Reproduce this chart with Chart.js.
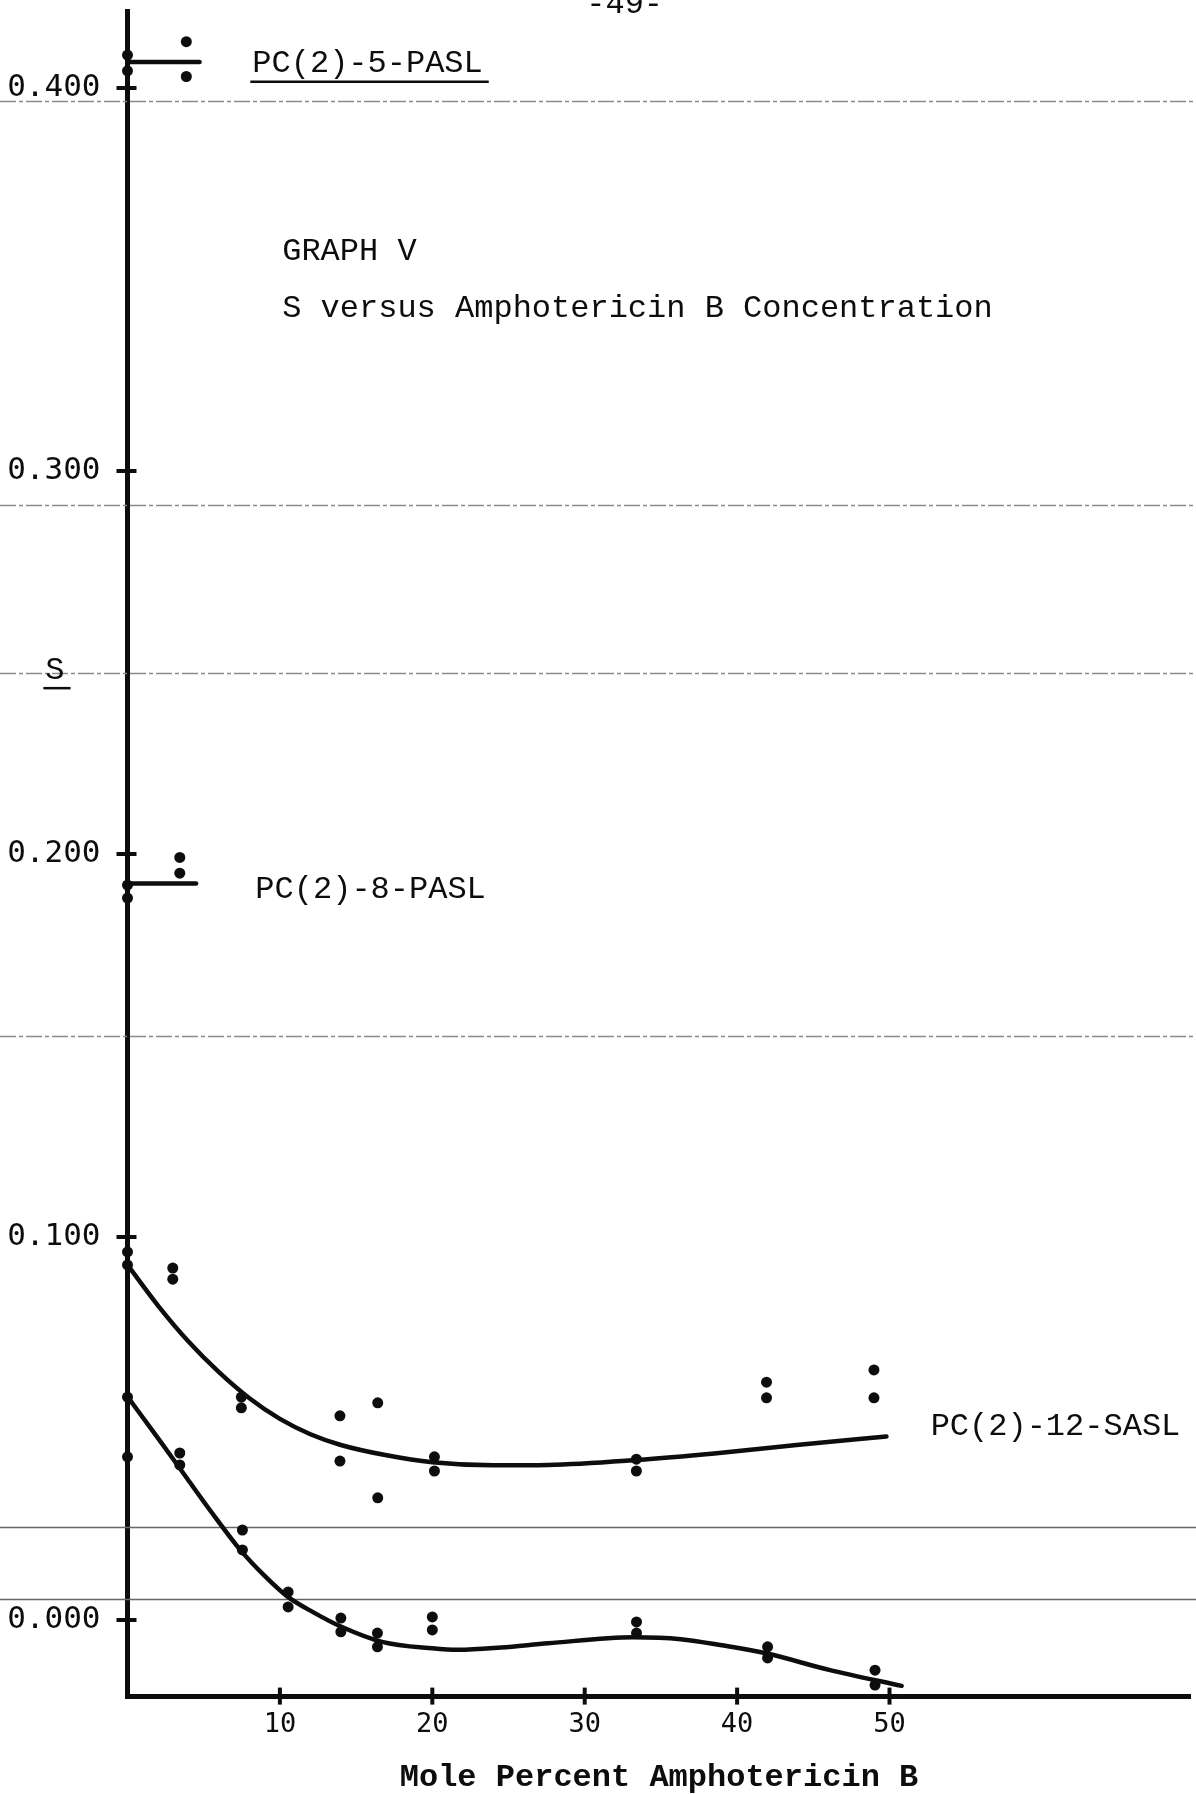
<!DOCTYPE html>
<html>
<head>
<meta charset="utf-8">
<title>Graph V - S versus Amphotericin B Concentration</title>
<script src="https://cdn.jsdelivr.net/npm/chart.js@4.4.1/dist/chart.umd.min.js"></script>
<style>
  html, body { margin: 0; padding: 0; background: #fff; }
  #wrap { width: 1196px; height: 1794px; }
</style>
</head>
<body>
<div id="wrap"><canvas id="graph" width="1196" height="1794"></canvas></div>
<script>
// axis ticks
const xTickValues = [10, 20, 30, 40, 50];
const yTickValues = [0, 0.1, 0.2, 0.3, 0.4];

// PC(2)-5-PASL measured points + fit line
const pasl5X = [0, 0, 3.86, 3.86];
const pasl5Y = [0.4086, 0.4045, 0.4121, 0.4030];
const pasl5FitX = [0, 4.73];
const pasl5FitY = [0.4068, 0.4068];

// PC(2)-8-PASL
const pasl8X = [0, 0, 3.43, 3.43];
const pasl8Y = [0.1919, 0.1885, 0.1991, 0.1950];
const pasl8FitX = [0, 4.5];
const pasl8FitY = [0.1923, 0.1923];

// PC(2)-12-SASL, upper set
const saslUpperX = [0, 0, 2.97, 2.97, 7.47, 7.47, 13.94, 13.94, 16.42, 16.42, 20.14, 20.14, 33.39, 33.39, 41.93, 41.93, 48.98, 48.98];
const saslUpperY = [0.0961, 0.0927, 0.0919, 0.0890, 0.0582, 0.0554, 0.0533, 0.0415, 0.0567, 0.0319, 0.0426, 0.0389, 0.0420, 0.0389, 0.0621, 0.0580, 0.0653, 0.0580];
const saslUpperFitX = [0, 2, 4, 6, 8, 10, 12, 14, 17, 20, 24, 27.6, 33.4, 38.5, 43.9, 49.8];
const saslUpperFitY = [0.0927, 0.0821, 0.0727, 0.0647, 0.0579, 0.0525, 0.0485, 0.0457, 0.0430, 0.0412, 0.0404, 0.0405, 0.0418, 0.0435, 0.0457, 0.0479];

// PC(2)-12-SASL, lower set
const saslLowerX = [0, 0, 3.43, 3.43, 7.54, 7.54, 10.54, 10.54, 14, 14, 16.4, 16.4, 20, 20, 33.4, 33.4, 42, 42, 49.05, 49.05];
const saslLowerY = [0.0582, 0.0426, 0.0436, 0.0405, 0.0235, 0.0183, 0.0073, 0.0034, 0.0005, -0.0031, -0.0034, -0.0070, 0.0008, -0.0026, -0.0005, -0.0034, -0.0070, -0.0099, -0.0131, -0.0170];
const saslLowerFitX = [0, 2, 3.9, 5.5, 7.4, 9, 10.5, 12.2, 14, 16.7, 20, 21.7, 24.5, 27.6, 33.2, 36.3, 39, 41.9, 46.1, 50.8];
const saslLowerFitY = [0.0583, 0.0475, 0.0370, 0.0282, 0.0183, 0.0115, 0.0061, 0.0020, -0.0017, -0.0057, -0.0074, -0.0078, -0.0072, -0.0061, -0.0045, -0.0050, -0.0066, -0.0087, -0.0131, -0.0172];

// faint ruled lines of the paper (in S units)
const ruledDashed = [0.3966, 0.2911, 0.2473, 0.1525];
const ruledSolid = [0.0243, 0.0054];

const ink = '#0d0d0d';
const typeFont = '32px "Liberation Mono", "DejaVu Sans Mono", monospace';

function pairs(xs, ys) {
  return xs.map((x, i) => ({ x: x, y: ys[i] }));
}

function dots(xs, ys) {
  return {
    data: pairs(xs, ys),
    pointRadius: 5.5,
    pointBackgroundColor: ink,
    pointBorderWidth: 0,
    showLine: false,
    clip: false
  };
}

function fit(xs, ys) {
  return {
    data: pairs(xs, ys),
    showLine: true,
    pointRadius: 0,
    borderColor: ink,
    borderWidth: 4.5,
    borderCapStyle: 'round',
    cubicInterpolationMode: 'monotone',
    clip: false
  };
}

// typed annotations, anchored in data units (left edge, vertical centre)
const typed = [
  { text: 'PC(2)-5-PASL', x: 8.19, y: 0.4063, underline: true },
  { text: 'GRAPH V', x: 10.15, y: 0.3574 },
  { text: 'S versus Amphotericin B Concentration', x: 10.15, y: 0.3423 },
  { text: 'S', x: -5.39, y: 0.2480, underline: true },
  { text: 'PC(2)-8-PASL', x: 8.39, y: 0.1906 },
  { text: 'PC(2)-12-SASL', x: 52.7, y: 0.0504 },
  { text: '-49-', x: 30.1, y: 0.4219 }
];

const ruledLines = {
  id: 'ruledLines',
  beforeDatasetsDraw(chart) {
    const { ctx, width } = chart;
    const y = chart.scales.y;
    ctx.save();
    ctx.lineWidth = 1.5;
    ctx.strokeStyle = '#8a8a8a';
    ctx.setLineDash([16, 3, 4, 3]);
    ruledDashed.forEach(v => {
      const py = Math.round(y.getPixelForValue(v)) + 0.5;
      ctx.beginPath(); ctx.moveTo(0, py); ctx.lineTo(width, py); ctx.stroke();
    });
    ctx.setLineDash([]);
    ctx.strokeStyle = '#666';
    ruledSolid.forEach(v => {
      const py = Math.round(y.getPixelForValue(v)) + 0.5;
      ctx.beginPath(); ctx.moveTo(0, py); ctx.lineTo(width, py); ctx.stroke();
    });
    ctx.restore();
  }
};

const crossTicks = {
  id: 'crossTicks',
  afterDraw(chart) {
    const { ctx, chartArea } = chart;
    const { x, y } = chart.scales;
    ctx.save();
    ctx.strokeStyle = ink;
    ctx.lineWidth = 4;
    y.ticks.forEach(t => {
      const py = y.getPixelForValue(t.value);
      ctx.beginPath(); ctx.moveTo(chartArea.left - 11, py); ctx.lineTo(chartArea.left + 9, py); ctx.stroke();
    });
    x.ticks.forEach(t => {
      const px = x.getPixelForValue(t.value);
      ctx.beginPath(); ctx.moveTo(px, chartArea.bottom - 9); ctx.lineTo(px, chartArea.bottom + 8); ctx.stroke();
    });
    ctx.restore();
  }
};

const typedLabels = {
  id: 'typedLabels',
  afterDraw(chart) {
    const { ctx } = chart;
    const { x, y } = chart.scales;
    ctx.save();
    ctx.font = typeFont;
    ctx.fillStyle = ink;
    ctx.textAlign = 'left';
    ctx.textBaseline = 'middle';
    typed.forEach(l => {
      const px = x.getPixelForValue(l.x);
      const py = y.getPixelForValue(l.y);
      ctx.fillText(l.text, px, py);
      if (l.underline) {
        const w = ctx.measureText(l.text).width;
        ctx.strokeStyle = ink;
        ctx.lineWidth = 2.5;
        ctx.beginPath(); ctx.moveTo(px - 2, py + 18); ctx.lineTo(px + w + 6, py + 18); ctx.stroke();
      }
    });
    ctx.restore();
  }
};

new Chart(document.getElementById('graph'), {
  type: 'scatter',
  data: {
    datasets: [
      fit(pasl5FitX, pasl5FitY),
      fit(pasl8FitX, pasl8FitY),
      fit(saslUpperFitX, saslUpperFitY),
      fit(saslLowerFitX, saslLowerFitY),
      dots(pasl5X, pasl5Y),
      dots(pasl8X, pasl8Y),
      dots(saslUpperX, saslUpperY),
      dots(saslLowerX, saslLowerY)
    ]
  },
  options: {
    responsive: false,
    animation: false,
    devicePixelRatio: 1,
    layout: { padding: { top: 11.4, left: 0, right: 0, bottom: 0 } },
    plugins: { legend: { display: false }, tooltip: { enabled: false } },
    scales: {
      x: {
        type: 'linear',
        min: 0,
        max: 69.75,
        afterFit: s => { s.height = 97.4; s.paddingLeft = 0; s.paddingRight = 0; },
        afterBuildTicks: s => { s.ticks = xTickValues.map(v => ({ value: v })); },
        grid: { drawOnChartArea: false, drawTicks: false },
        border: { display: true, color: ink, width: 5 },
        ticks: {
          padding: 12,
          color: ink,
          font: { family: '"DejaVu Sans Mono", monospace', size: 27 },
          callback: v => String(v)
        },
        title: {
          display: true,
          text: 'Mole Percent Amphotericin B',
          color: ink,
          font: { family: '"Liberation Mono", "DejaVu Sans Mono", monospace', size: 32, weight: 'bold', lineHeight: 1 },
          padding: { top: 0, bottom: 0 }
        }
      },
      y: {
        type: 'linear',
        min: -0.02,
        max: 0.42,
        afterFit: s => { s.width = 127.5; s.paddingTop = 0; s.paddingBottom = 0; },
        afterBuildTicks: s => { s.ticks = yTickValues.map(v => ({ value: v })); },
        grid: { drawOnChartArea: false, drawTicks: false },
        border: { display: true, color: ink, width: 5 },
        ticks: {
          padding: 27,
          color: ink,
          font: { family: '"DejaVu Sans Mono", monospace', size: 31 },
          callback: v => v.toFixed(3)
        }
      }
    }
  },
  plugins: [ruledLines, crossTicks, typedLabels]
});
</script>
</body>
</html>
